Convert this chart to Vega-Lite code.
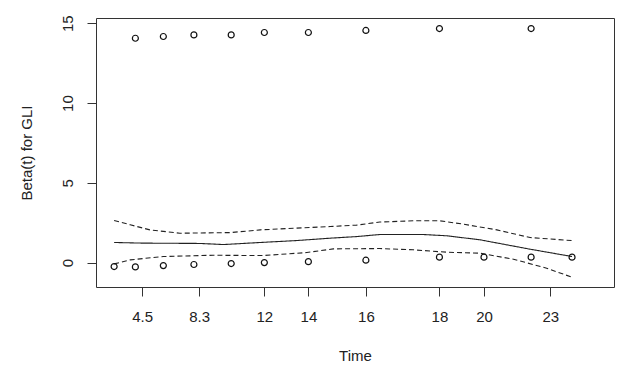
{
  "$schema": "https://vega.github.io/schema/vega-lite/v6.json",
  "autosize": {"type": "none"},
  "width": 518,
  "height": 269,
  "padding": {"left": 96, "top": 18, "right": 14, "bottom": 86},
  "background": "white",
  "config": {
    "view": {"stroke": "#333", "strokeWidth": 1},
    "font": "Liberation Sans",
    "axis": {
      "domain": false,
      "grid": false,
      "tickColor": "#333",
      "tickSize": 9,
      "labelFont": "Liberation Sans",
      "labelFontSize": 15,
      "labelColor": "#222",
      "titleFont": "Liberation Sans",
      "titleFontSize": 15,
      "titleFontWeight": "normal",
      "titleColor": "#222"
    }
  },
  "datasets": {
    "pts": [
      {"tx": 3.5, "beta": -0.25},
      {"tx": 7.6, "beta": -0.27},
      {"tx": 13.0, "beta": -0.19},
      {"tx": 18.9, "beta": -0.12},
      {"tx": 26.1, "beta": -0.06},
      {"tx": 32.5, "beta": 0.0},
      {"tx": 41.0, "beta": 0.06},
      {"tx": 52.1, "beta": 0.15},
      {"tx": 66.3, "beta": 0.34},
      {"tx": 74.9, "beta": 0.34},
      {"tx": 84.0, "beta": 0.34},
      {"tx": 91.9, "beta": 0.34},
      {"tx": 7.6, "beta": 14.06},
      {"tx": 13.0, "beta": 14.17},
      {"tx": 18.9, "beta": 14.27},
      {"tx": 26.1, "beta": 14.27},
      {"tx": 32.5, "beta": 14.42},
      {"tx": 41.0, "beta": 14.42},
      {"tx": 52.1, "beta": 14.55},
      {"tx": 66.3, "beta": 14.67},
      {"tx": 84.0, "beta": 14.67}
    ],
    "curves": [
      {"band": "fit", "tx": 3.5, "beta": 1.26},
      {"band": "fit", "tx": 9.1, "beta": 1.22},
      {"band": "fit", "tx": 20.1, "beta": 1.2},
      {"band": "fit", "tx": 24.6, "beta": 1.13},
      {"band": "fit", "tx": 31.7, "beta": 1.26},
      {"band": "fit", "tx": 38.7, "beta": 1.38},
      {"band": "fit", "tx": 45.2, "beta": 1.53},
      {"band": "fit", "tx": 50.3, "beta": 1.63},
      {"band": "fit", "tx": 54.8, "beta": 1.76},
      {"band": "fit", "tx": 63.2, "beta": 1.76},
      {"band": "fit", "tx": 67.7, "beta": 1.68},
      {"band": "fit", "tx": 74.1, "beta": 1.43},
      {"band": "fit", "tx": 83.8, "beta": 0.84},
      {"band": "fit", "tx": 91.9, "beta": 0.38},
      {"band": "upper", "tx": 3.5, "beta": 2.64},
      {"band": "upper", "tx": 6.6, "beta": 2.37},
      {"band": "upper", "tx": 10.4, "beta": 2.05},
      {"band": "upper", "tx": 16.2, "beta": 1.84},
      {"band": "upper", "tx": 25.9, "beta": 1.88},
      {"band": "upper", "tx": 31.7, "beta": 2.05},
      {"band": "upper", "tx": 38.7, "beta": 2.16},
      {"band": "upper", "tx": 45.2, "beta": 2.26},
      {"band": "upper", "tx": 50.3, "beta": 2.35},
      {"band": "upper", "tx": 54.8, "beta": 2.54},
      {"band": "upper", "tx": 61.3, "beta": 2.62},
      {"band": "upper", "tx": 66.4, "beta": 2.62},
      {"band": "upper", "tx": 70.9, "beta": 2.41},
      {"band": "upper", "tx": 77.4, "beta": 2.05},
      {"band": "upper", "tx": 83.8, "beta": 1.57},
      {"band": "upper", "tx": 91.9, "beta": 1.38},
      {"band": "lower", "tx": 3.5, "beta": -0.08},
      {"band": "lower", "tx": 6.6, "beta": 0.17},
      {"band": "lower", "tx": 13.0, "beta": 0.38},
      {"band": "lower", "tx": 22.6, "beta": 0.46},
      {"band": "lower", "tx": 32.3, "beta": 0.44},
      {"band": "lower", "tx": 40.7, "beta": 0.63},
      {"band": "lower", "tx": 45.8, "beta": 0.86},
      {"band": "lower", "tx": 54.8, "beta": 0.88},
      {"band": "lower", "tx": 61.3, "beta": 0.8},
      {"band": "lower", "tx": 67.7, "beta": 0.65},
      {"band": "lower", "tx": 74.1, "beta": 0.59},
      {"band": "lower", "tx": 80.6, "beta": 0.21},
      {"band": "lower", "tx": 87.0, "beta": -0.35},
      {"band": "lower", "tx": 91.9, "beta": -0.92}
    ]
  },
  "encoding": {
    "x": {
      "field": "tx",
      "type": "quantitative",
      "scale": {"domain": [0, 100], "nice": false, "zero": false},
      "axis": {
        "title": "Time",
        "values": [8.9, 19.9, 32.5, 41.0, 52.1, 66.3, 74.9, 87.7],
        "labelExpr": "datum.value < 10 ? '4.5' : datum.value < 20 ? '8.3' : datum.value < 33 ? '12' : datum.value < 42 ? '14' : datum.value < 53 ? '16' : datum.value < 67 ? '18' : datum.value < 75 ? '20' : '23'",
        "labelPadding": 13,
        "titlePadding": 24,
        "labelFlush": false
      }
    },
    "y": {
      "field": "beta",
      "type": "quantitative",
      "scale": {"domain": [-1.53, 15.33], "nice": false, "zero": false},
      "axis": {
        "title": "Beta(t) for GLI",
        "values": [0, 5, 10, 15],
        "labelAngle": -90,
        "labelAlign": "center",
        "labelBaseline": "bottom",
        "labelPadding": 12,
        "titlePadding": 26
      }
    }
  },
  "layer": [
    {
      "data": {"name": "curves"},
      "mark": {"type": "line", "color": "#222", "strokeWidth": 1.1},
      "encoding": {
        "detail": {"field": "band"},
        "strokeDash": {
          "field": "band",
          "type": "nominal",
          "scale": {"domain": ["fit", "upper", "lower"], "range": [[1, 0], [5, 3], [5, 3]]},
          "legend": null
        }
      }
    },
    {
      "data": {"name": "pts"},
      "mark": {"type": "point", "shape": "circle", "filled": false, "color": "#111", "strokeWidth": 1.2, "size": 36, "opacity": 1}
    }
  ]
}
